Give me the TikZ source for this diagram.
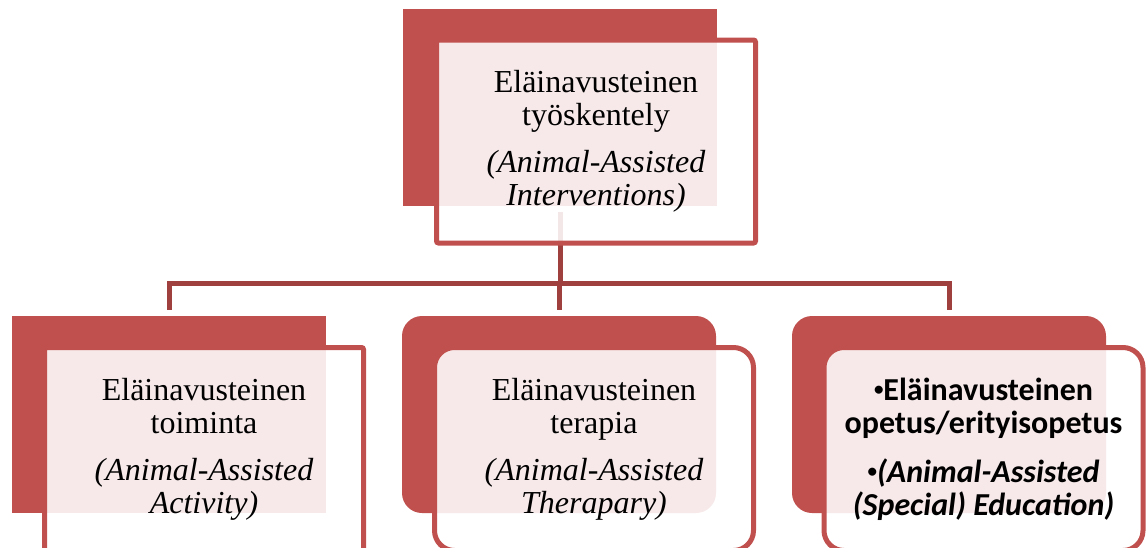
\documentclass[tikz,border=0pt]{standalone}
\usepackage{fontspec}
\setmainfont{Liberation Serif}
\newfontfamily\labelsans{Carlito}
\definecolor{accent}{RGB}{192,80,77}
\definecolor{linkred}{RGB}{160,64,62}
% small list bullet as used in the right-hand box
\newcommand{\smallbullet}{\raisebox{5pt}{\fontsize{19}{19}\selectfont\upshape•}}

\begin{document}
\begin{tikzpicture}[x=1pt,y=-1pt,
  backbox/.style={fill=accent, draw=none, anchor=north west, inner sep=0pt,
    outer sep=0pt, minimum width=314pt, minimum height=197pt},
  frontbox/.style={draw=accent, line width=5pt, fill=white, fill opacity=0.88,
    text opacity=1, anchor=north west, inner sep=0pt, outer sep=0pt,
    minimum width=319pt, minimum height=203pt, align=center,
    font=\fontsize{32}{33}\selectfont, rounded corners=2pt},
  roundback/.style={backbox, rounded corners=20pt},
  roundfront/.style={frontbox, rounded corners=20pt},
  link/.style={draw=linkred, line width=5pt, shorten <=6pt, shorten >=6pt}]

\useasboundingbox (0,0) rectangle (1146,547);
\clip (0,0) rectangle (1146,547);

% back plates
\node[backbox] (tb) at (403,9) {};
\node[backbox] (lb) at (12,316) {};
\node[roundback] (mb) at (402,316) {};
\node[roundback] (rb) at (792,316) {};

% tree connectors
\coordinate (bus) at (560,283);
\draw[link] (tb.south) -- (tb.south |- bus) -| (lb.north);
\draw[link] (tb.south) -- (tb.south |- bus) -| (mb.north);
\draw[link] (tb.south) -- (tb.south |- bus) -| (rb.north);

% front boxes with labels
\node[frontbox] (tf) at (436.5,40) {Eläinavusteinen\\työskentely\\[14pt]
  {\itshape (Animal-Assisted}\\{\itshape Interventions)}};
\node[frontbox] (lf) at (44.5,347.5) {Eläinavusteinen\\toiminta\\[14pt]
  {\itshape (Animal-Assisted}\\{\itshape Activity)}};
\node[roundfront] (mf) at (434.5,347.5) {Eläinavusteinen\\terapia\\[14pt]
  {\itshape (Animal-Assisted}\\{\itshape Therapary)}};
\node[roundfront, font=\labelsans\bfseries\fontsize{32}{33}\selectfont] (rf) at (824,347.5)
  {\smallbullet Eläinavusteinen\\opetus/erityisopetus\\[16pt]
  {\itshape \smallbullet(Animal-Assisted}\\{\itshape (Special) Education)}};
\end{tikzpicture}
\end{document}
